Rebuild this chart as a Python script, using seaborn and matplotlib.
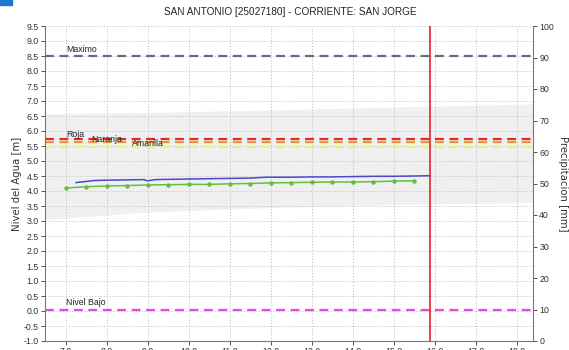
import matplotlib
matplotlib.use("Agg")
import matplotlib.pyplot as plt
import matplotlib.patches as mpatches
import numpy as np
import pandas as pd
import seaborn as sns

# --- data -------------------------------------------------------------
title = "SAN ANTONIO [25027180] - CORRIENTE: SAN JORGE"
x_ticks = [7.0, 8.0, 9.0, 10.0, 11.0, 12.0, 13.0, 14.0, 15.0, 16.0, 17.0, 18.0]
y_ticks = [-1.0, -0.5, 0.0, 0.5, 1.0, 1.5, 2.0, 2.5, 3.0, 3.5, 4.0, 4.5, 5.0,
           5.5, 6.0, 6.5, 7.0, 7.5, 8.0, 8.5, 9.0, 9.5]
precip_ticks = [0, 10, 20, 30, 40, 50, 60, 70, 80, 90, 100]

# observed level (blue)
obs_x = [7.25, 7.45, 7.7, 8.0, 8.5, 8.9, 9.0, 9.2, 9.6, 10.0, 10.5, 11.0,
         11.5, 11.9, 12.5, 13.0, 13.5, 14.0, 14.5, 15.0, 15.5, 15.9]
obs_y = [4.28, 4.31, 4.35, 4.36, 4.37, 4.38, 4.34, 4.38, 4.39, 4.40, 4.41,
         4.42, 4.43, 4.46, 4.46, 4.47, 4.47, 4.48, 4.49, 4.49, 4.50, 4.51]

# forecast level (green, with markers)
fc_x = [7.0, 7.5, 8.0, 8.5, 9.0, 9.5, 10.0, 10.5, 11.0, 11.5, 12.0, 12.5,
        13.0, 13.5, 14.0, 14.5, 15.0, 15.5]
fc_y = [4.10, 4.14, 4.17, 4.18, 4.20, 4.21, 4.22, 4.22, 4.24, 4.25, 4.27,
        4.28, 4.29, 4.30, 4.30, 4.31, 4.33, 4.34]

# uncertainty band
band_x = [6.5, 9.0, 12.0, 15.0, 18.4]
band_lo = [3.05, 3.30, 3.45, 3.55, 3.62]
band_hi = [6.58, 6.62, 6.70, 6.80, 6.90]

# reference levels
levels = {
    "Maximo": 8.5,
    "Roja": 5.75,
    "Naranja": 5.62,
    "Amarilla": 5.46,
    "Nivel Bajo": 0.05,
}
level_colors = {
    "Maximo": "#5f6d8c",
    "Roja": "#e8262a",
    "Naranja": "#f0943a",
    "Amarilla": "#f2ee70",
    "Nivel Bajo": "#e24ae6",
}
now_x = 15.9

# --- drawing ----------------------------------------------------------
sns.set_theme(style="white")
plt.rcParams["font.family"] = ["Liberation Sans", "DejaVu Sans"]

fig = plt.figure(figsize=(5.69, 3.5), dpi=100)
ax = fig.add_axes([45 / 569, 1 - 341 / 350, 488 / 569, 315 / 350])

ax.fill_between(band_x, band_lo, band_hi, color="#f0f0f0", lw=0, zorder=0)

for name, val in levels.items():
    ax.axhline(val, color=level_colors[name], lw=1.6, ls=(0, (4, 2.5)), zorder=2)

obs = pd.DataFrame({"x": obs_x, "y": obs_y})
fc = pd.DataFrame({"x": fc_x, "y": fc_y})
sns.lineplot(data=obs, x="x", y="y", ax=ax, color="#4a48c8", lw=1.1, zorder=4)
sns.lineplot(data=fc, x="x", y="y", ax=ax, color="#62c040", lw=1.1,
             marker="o", markersize=3.2, markeredgewidth=0, zorder=4)

ax.axvline(now_x, color="#e2343a", lw=1.3, zorder=5)

fs = 6.3
ax.text(7.02, 8.56, "Maximo", fontsize=fs, va="bottom", ha="left", color="#222222")
ax.text(7.02, 5.87, "Roja", fontsize=fs, va="center", ha="left", color="#222222")
ax.text(7.62, 5.72, "Naranja", fontsize=fs, va="center", ha="left", color="#222222")
ax.text(8.62, 5.58, "Amarilla", fontsize=fs, va="center", ha="left", color="#222222")
ax.text(7.02, 0.13, "Nivel Bajo", fontsize=fs, va="bottom", ha="left", color="#222222")

ax.set_xlim(6.5, 18.4)
ax.set_ylim(-1.0, 9.5)
ax.set_xticks(x_ticks)
ax.set_xticklabels([f"{v:.1f}" for v in x_ticks])
ax.set_yticks(y_ticks)
ax.set_yticklabels([f"{v:.1f}" for v in y_ticks])
ax.grid(True, color="#c4c4c4", ls=(0, (1.2, 1.8)), lw=0.7)
ax.set_axisbelow(True)
ax.set_xlabel("")
ax.set_ylabel("Nivel del Agua [m]", fontsize=7.3, labelpad=1, color="#333333",
              family="DejaVu Sans")
ax.tick_params(axis="both", labelsize=6.3, colors="#333333", length=3, width=0.6,
               direction="out", pad=1.5)
ax.tick_params(axis="x", bottom=True)
ax.tick_params(axis="y", left=True)
for side in ("left", "bottom"):
    ax.spines[side].set_color("#777777")
    ax.spines[side].set_linewidth(0.8)
ax.spines["top"].set_visible(False)
ax.spines["right"].set_visible(False)

ax2 = ax.twinx()
ax2.set_ylim(0, 100)
ax2.set_yticks(precip_ticks)
ax2.set_yticklabels([str(v) for v in precip_ticks])
ax2.set_ylabel("Precipitacion [mm]", fontsize=7.3, rotation=270, labelpad=10,
               color="#333333", family="DejaVu Sans")
ax2.tick_params(axis="y", labelsize=6.3, colors="#333333", length=3, width=0.6,
                direction="out", pad=1.5, right=True)
ax2.grid(False)
for side in ("left", "bottom", "top"):
    ax2.spines[side].set_visible(False)
ax2.spines["right"].set_color("#777777")
ax2.spines["right"].set_linewidth(0.8)

fig.text(290 / 569, 1 - 12 / 350, title, fontsize=7.2, ha="center", va="center",
         color="#222222")
fig.patches.append(mpatches.Rectangle((0, 1 - 5 / 350), 12 / 569, 5 / 350,
                                      transform=fig.transFigure,
                                      color="#1f74d6", zorder=10))

fig.savefig("out.png", dpi=100)
